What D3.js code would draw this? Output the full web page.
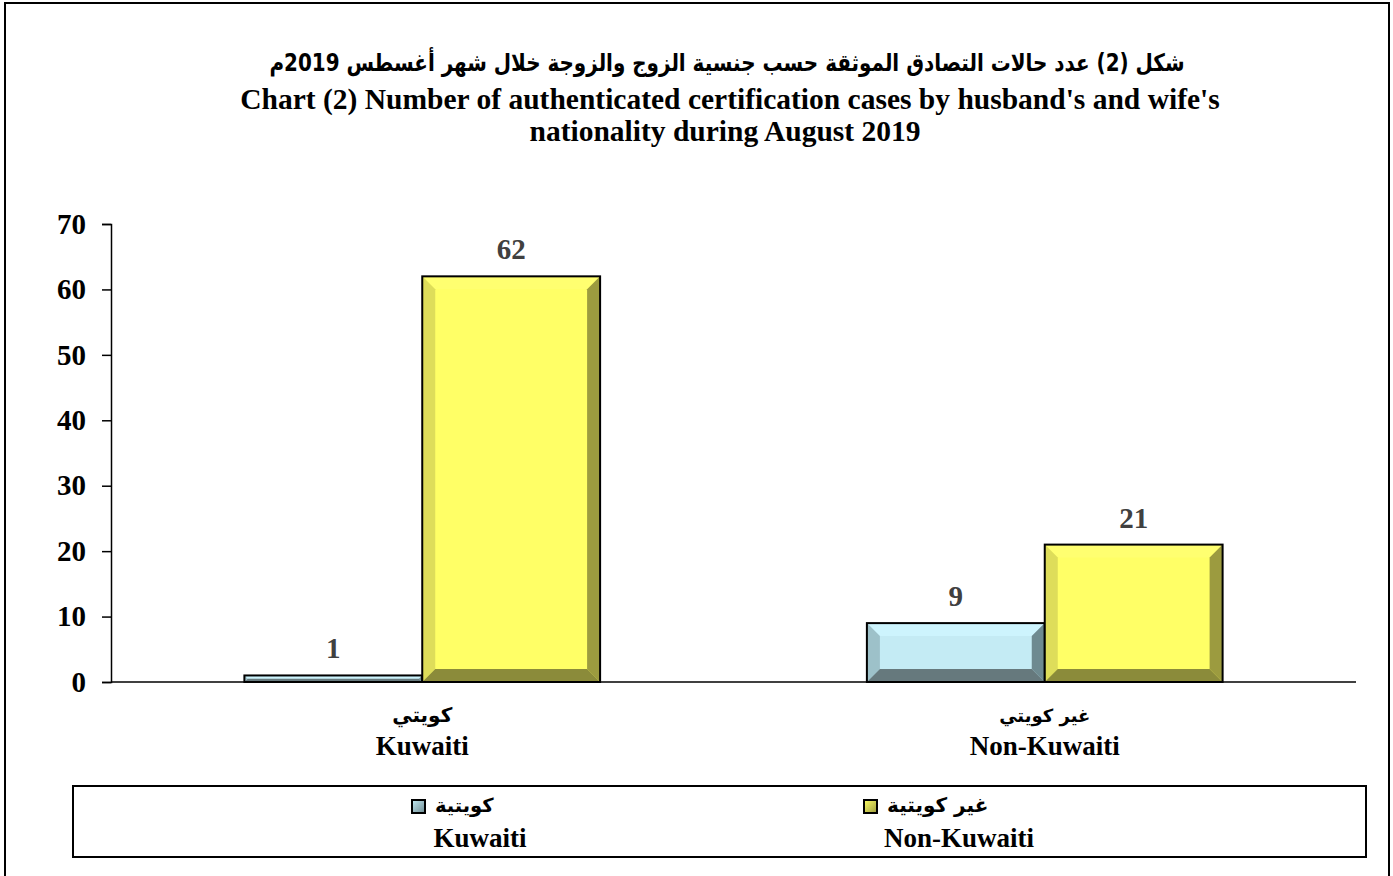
<!DOCTYPE html>
<html>
<head>
<meta charset="utf-8">
<script src="https://cdn.jsdelivr.net/npm/d3@7"></script>
<style>
  body { margin: 0; background: #fff; }
  text { font-family: "Liberation Serif", "DejaVu Serif", "DejaVu Sans", serif; font-weight: bold; }
</style>
</head>
<body>
<div id="chart"></div>
<script>
// chart data
const categoriesAr = ['كويتي', 'غير كويتي'];
const categoriesEn = ['Kuwaiti', 'Non-Kuwaiti'];
const seriesAr = ['كويتية', 'غير كويتية'];
const seriesEn = ['Kuwaiti', 'Non-Kuwaiti'];
const kuwaitiWife = [1, 9];
const nonKuwaitiWife = [62, 21];
const yTicks = [0, 10, 20, 30, 40, 50, 60, 70];
const titleAr = 'شكل (2) عدد حالات التصادق الموثقة حسب جنسية الزوج والزوجة خلال شهر أغسطس 2019م';
const titleEn1 = "Chart (2) Number of authenticated certification cases by husband's and wife's";
const titleEn2 = 'nationality during August 2019';

const width = 1393;
const height = 876;
const margin = {top: 224, right: 37, bottom: 194, left: 111};

// bevel colours per series: face, top, left, right, bottom
const palettes = [
    {face: '#c4ebf4', top: '#cdf4fd', left: '#9dc1c9', right: '#6e8a90', bottom: '#66797d'},
    {face: '#ffff66', top: '#ffff70', left: '#dedd5a', right: '#9c9b3f', bottom: '#8b8b3a'}
];

const svg = d3.select('#chart')
    .append('svg')
        .attr('width', width)
        .attr('height', height);

// outer frame
svg.append('rect')
    .attr('x', 5).attr('y', 3)
    .attr('width', 1384).attr('height', 890)
    .attr('fill', 'none')
    .attr('stroke', '#000')
    .attr('stroke-width', 2);

// titles
svg.append('text')
    .attr('x', 727).attr('y', 71)
    .attr('text-anchor', 'middle')
    .attr('direction', 'rtl')
    .attr('textLength', 915)
    .attr('lengthAdjust', 'spacingAndGlyphs')
    .style('font-size', '24px')
    .style('font-family', '"DejaVu Sans", sans-serif')
    .text(titleAr);
svg.append('text')
    .attr('x', 730).attr('y', 109)
    .attr('text-anchor', 'middle')
    .style('font-size', '29.5px')
    .text(titleEn1);
svg.append('text')
    .attr('x', 725).attr('y', 141)
    .attr('text-anchor', 'middle')
    .style('font-size', '29.5px')
    .text(titleEn2);

// scales
const x0 = d3.scaleBand()
    .domain(categoriesEn)
    .range([margin.left, width - margin.right])
    .padding(0);

const x1 = d3.scaleBand()
    .domain(seriesEn)
    .range([0, x0.bandwidth()])
    .paddingInner(0)
    .paddingOuter(0.75);

const y = d3.scaleLinear()
    .domain([0, 70])
    .range([height - margin.bottom, margin.top]);

// y axis
const yAxis = svg.append('g')
    .attr('transform', `translate(${margin.left}, 0)`)
    .call(d3.axisLeft(y).tickValues(yTicks).tickSize(9).tickPadding(16));
yAxis.select('.domain').attr('stroke', '#000').attr('stroke-width', 1.5);
yAxis.selectAll('.tick line').attr('stroke', '#000').attr('stroke-width', 1.5);
yAxis.selectAll('.tick text')
    .attr('fill', '#000')
    .style('font-size', '29px')
    .style('font-family', '"Liberation Serif", serif')
    .style('font-weight', 'bold');

// bars
const seriesValues = [kuwaitiWife, nonKuwaitiWife];
const barData = [];
categoriesEn.forEach((cat, ci) => {
    seriesEn.forEach((s, si) => {
        barData.push({cat, s, si, value: seriesValues[si][ci]});
    });
});

const bars = svg.append('g').attr('class', 'bars-group')
    .selectAll('g')
    .data(barData)
    .join('g');

bars.each(function(d) {
    const g = d3.select(this);
    const x = x0(d.cat) + x1(d.s);
    const w = x1.bandwidth();
    const yTop = y(d.value);
    const yBot = y(0);
    const h = yBot - yTop;
    const b = Math.min(13, h / 2, w / 2);
    const p = palettes[d.si];
    g.append('rect')
        .attr('x', x).attr('y', yTop).attr('width', w).attr('height', h)
        .attr('fill', p.face);
    const poly = (pts, fill) => g.append('polygon')
        .attr('points', pts.map(q => q.join(',')).join(' '))
        .attr('fill', fill);
    poly([[x, yTop], [x + w, yTop], [x + w - b, yTop + b], [x + b, yTop + b]], p.top);
    poly([[x, yTop], [x + b, yTop + b], [x + b, yBot - b], [x, yBot]], p.left);
    poly([[x + w, yTop], [x + w, yBot], [x + w - b, yBot - b], [x + w - b, yTop + b]], p.right);
    poly([[x, yBot], [x + b, yBot - b], [x + w - b, yBot - b], [x + w, yBot]], p.bottom);
    g.append('rect')
        .attr('x', x).attr('y', yTop).attr('width', w).attr('height', h)
        .attr('fill', 'none')
        .attr('stroke', '#000')
        .attr('stroke-width', 2);
    g.append('text')
        .attr('x', x + w / 2)
        .attr('y', yTop - 17)
        .attr('text-anchor', 'middle')
        .attr('fill', '#404040')
        .style('font-size', '29px')
        .text(d.value);
});

// x axis line (drawn over bar bottoms)
svg.append('line')
    .attr('x1', margin.left).attr('x2', width - margin.right)
    .attr('y1', y(0)).attr('y2', y(0))
    .attr('stroke', '#000')
    .attr('stroke-width', 1.5);

// category labels
const catLabels = svg.append('g').attr('class', 'category-labels')
    .selectAll('g')
    .data(categoriesEn)
    .join('g');
catLabels.append('text')
    .attr('x', d => x0(d) + x0.bandwidth() / 2)
    .attr('y', 722)
    .attr('text-anchor', 'middle')
    .style('font-size', (d, i) => i === 0 ? '20px' : '18px')
    .style('font-family', '"DejaVu Sans", sans-serif')
    .text((d, i) => categoriesAr[i]);
catLabels.append('text')
    .attr('x', d => x0(d) + x0.bandwidth() / 2)
    .attr('y', 755)
    .attr('text-anchor', 'middle')
    .style('font-size', '27px')
    .text(d => d);

// legend
const defs = svg.append('defs');
palettes.forEach((p, i) => {
    const grad = defs.append('linearGradient')
        .attr('id', 'lg' + i)
        .attr('x1', '0').attr('y1', '0').attr('x2', '1').attr('y2', '1');
    grad.append('stop').attr('offset', '0%').attr('stop-color', p.face);
    grad.append('stop').attr('offset', '100%').attr('stop-color', p.right);
});

svg.append('rect')
    .attr('x', 73).attr('y', 786)
    .attr('width', 1293).attr('height', 71)
    .attr('fill', 'none')
    .attr('stroke', '#000')
    .attr('stroke-width', 2);

const legendX = [412, 864];
const legendEnX = [480, 959];
const legendItems = svg.append('g').attr('class', 'legend-items')
    .selectAll('g')
    .data(seriesEn)
    .join('g');
legendItems.append('rect')
    .attr('x', (d, i) => legendX[i])
    .attr('y', 800)
    .attr('width', 13).attr('height', 13)
    .attr('fill', (d, i) => `url(#lg${i})`)
    .attr('stroke', '#000')
    .attr('stroke-width', 2);
legendItems.append('text')
    .attr('x', (d, i) => legendX[i] + 23)
    .attr('y', 812)
    .attr('text-anchor', 'start')
    .style('font-size', (d, i) => i === 0 ? '19.5px' : '20px')
    .style('font-family', '"DejaVu Sans", sans-serif')
    .text((d, i) => seriesAr[i]);
legendItems.append('text')
    .attr('x', (d, i) => legendEnX[i])
    .attr('y', 847)
    .attr('text-anchor', 'middle')
    .style('font-size', '27px')
    .text(d => d);
</script>
</body>
</html>
